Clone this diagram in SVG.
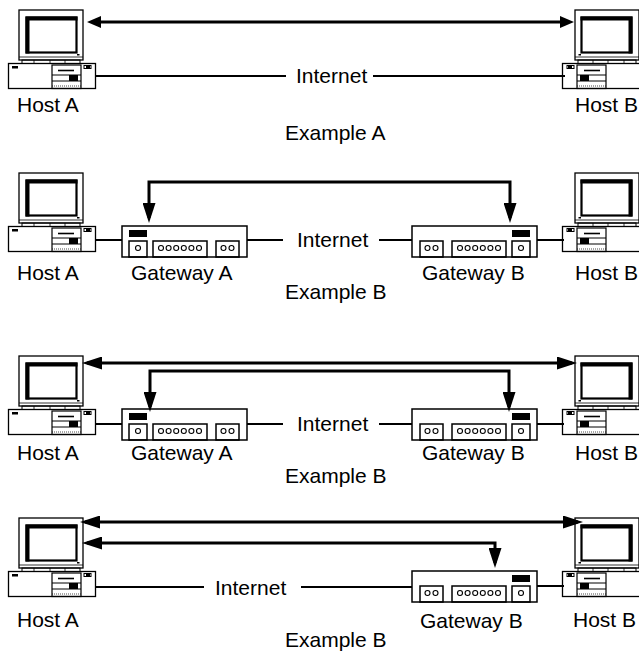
<svg xmlns="http://www.w3.org/2000/svg" xmlns:xlink="http://www.w3.org/1999/xlink" width="639" height="651" viewBox="0 0 639 651">
  <style>
    text { font-family: "Liberation Sans", Arial, sans-serif; font-size: 21px; fill: #000; }
    .link { fill: none; stroke: #000; stroke-width: 1.8; }
    .flow { fill: none; stroke: #000; stroke-width: 3; }
    .big { marker-start: url(#ah); marker-end: url(#ah); }
    .small { marker-start: url(#ahs); marker-end: url(#ahs); }
  </style>
  <defs>
    <marker id="ah" markerUnits="userSpaceOnUse" markerWidth="20" markerHeight="13" refX="15" refY="6.5" orient="auto-start-reverse">
      <path d="M0,0 L20,6.5 L0,13 Z" fill="#000"/>
    </marker>
    <marker id="ahs" markerUnits="userSpaceOnUse" markerWidth="14" markerHeight="12" refX="9" refY="6" orient="auto-start-reverse">
      <path d="M0,0 L14,6 L0,12 Z" fill="#000"/>
    </marker>
    <!-- desktop computer: monitor on top of a horizontal case -->
    <g id="pc" fill="none" stroke="#000">
      <rect x="11" y="0" width="64" height="50" stroke-width="1.3"/>
      <rect x="18.5" y="7.5" width="50" height="35" stroke-width="2.2"/>
      <path d="M17.5 8.5 H69.5 M19.5 7 V43.5" stroke-width="4"/>
      <path d="M11 47 H75" stroke-width="0.8"/>
      <rect x="69" y="44" width="2.5" height="1.5" fill="#000" stroke="none"/>
      <rect x="14" y="50" width="58" height="3.5" stroke-width="1"/>
      <path d="M26 50 V53.5 M42 50 V53.5 M57 50 V53.5" stroke-width="0.8"/>
      <rect x="0.5" y="53.5" width="87" height="25" stroke-width="1.3"/>
      <rect x="4" y="56" width="6" height="2.5" fill="#000" stroke="none"/>
      <rect x="76" y="55.5" width="7" height="3" stroke-width="1"/>
      <rect x="78" y="56" width="4" height="2" fill="#000" stroke="none"/>
      <rect x="44" y="55" width="29" height="23.5" stroke-width="1.2"/>
      <path d="M50 60.5 H66" stroke-width="1.6"/>
      <path d="M44 65 H73 M44 71 H73" stroke-width="1"/>
      <rect x="61" y="65" width="9" height="6" fill="#000" stroke="none"/>
      <path d="M44 76 H73" stroke-width="0.7" stroke-dasharray="1 1"/>
    </g>
    <!-- gateway box with status panel and port blocks -->
    <g id="gw" fill="none" stroke="#000">
      <rect x="0" y="0" width="125" height="31" stroke-width="1.5"/>
      <rect x="7" y="4" width="18" height="7" fill="#000" stroke="none"/>
      <rect x="7" y="15" width="18" height="16" stroke-width="1.5"/>
      <circle cx="16" cy="22" r="2.5" stroke-width="1.1"/>
      <rect x="31" y="15" width="54" height="16" stroke-width="1.5"/>
      <g stroke-width="1.1">
        <circle cx="39" cy="22" r="2.5"/>
        <circle cx="46.6" cy="22" r="2.5"/>
        <circle cx="54.2" cy="22" r="2.5"/>
        <circle cx="61.8" cy="22" r="2.5"/>
        <circle cx="69.4" cy="22" r="2.5"/>
        <circle cx="77" cy="22" r="2.5"/>
        <circle cx="101.5" cy="22" r="2.5"/>
        <circle cx="109.5" cy="22" r="2.5"/>
      </g>
      <rect x="94" y="15" width="23" height="16" stroke-width="1.5"/>
    </g>
  </defs>
  <rect width="639" height="651" fill="#fff"/>

  <!-- Example A -->
  <g id="a-hostA"><use xlink:href="#pc" transform="translate(8 10)"/><text x="17" y="112">Host A</text></g>
  <g id="a-hostB"><use xlink:href="#pc" transform="translate(650 10) scale(-1 1)"/><text x="575" y="112">Host B</text></g>

  <!-- Example B (gateway to gateway) -->
  <g id="b1-hostA"><use xlink:href="#pc" transform="translate(8 173)"/><text x="17" y="280">Host A</text></g>
  <g id="b1-gwA"><use xlink:href="#gw" transform="translate(122 226)"/><text x="131" y="280">Gateway A</text></g>
  <g id="b1-gwB"><use xlink:href="#gw" transform="translate(537 226) scale(-1 1)"/><text x="422" y="280">Gateway B</text></g>
  <g id="b1-hostB"><use xlink:href="#pc" transform="translate(650 173) scale(-1 1)"/><text x="575" y="280">Host B</text></g>

  <!-- Example B (host to host and gateway to gateway) -->
  <g id="b2-hostA"><use xlink:href="#pc" transform="translate(8 356)"/><text x="17" y="460">Host A</text></g>
  <g id="b2-gwA"><use xlink:href="#gw" transform="translate(122 409)"/><text x="131" y="460">Gateway A</text></g>
  <g id="b2-gwB"><use xlink:href="#gw" transform="translate(537 409) scale(-1 1)"/><text x="422" y="460">Gateway B</text></g>
  <g id="b2-hostB"><use xlink:href="#pc" transform="translate(650 356) scale(-1 1)"/><text x="575" y="460">Host B</text></g>

  <!-- Example B (host to gateway) -->
  <g id="b3-hostA"><use xlink:href="#pc" transform="translate(8 518)"/><text x="17" y="627">Host A</text></g>
  <g id="b3-gwB"><use xlink:href="#gw" transform="translate(537 571) scale(-1 1)"/><text x="420" y="628">Gateway B</text></g>
  <g id="b3-hostB"><use xlink:href="#pc" transform="translate(650 518) scale(-1 1)"/><text x="573" y="627">Host B</text></g>

  <g id="connectors">
    <!-- network links -->
    <path class="link" d="M95 76 H286 M373 76 H565"/>
    <path class="link" d="M95 240 H122 M247 240 H283 M379 240 H412 M537 240 H564"/>
    <path class="link" d="M95 424 H122 M247 424 H283 M379 424 H412 M537 424 H564"/>
    <path class="link" d="M95 587 H204 M301 587 H412 M537 586 H564"/>
    <!-- end-to-end paths -->
    <path class="flow small" d="M92 22 H569"/>
    <path class="flow big" d="M149 218 V182 H510 V218"/>
    <path class="flow big" d="M87 363 H572"/>
    <path class="flow big" d="M150 407 V371 H509 V407"/>
    <path class="flow big" d="M85 522 H578"/>
    <path class="flow big" d="M87 543 H495 V563"/>
  </g>

  <g id="labels">
    <text x="296" y="83">Internet</text>
    <text x="285" y="140">Example A</text>
    <text x="297" y="247">Internet</text>
    <text x="285" y="299">Example B</text>
    <text x="297" y="431">Internet</text>
    <text x="285" y="483">Example B</text>
    <text x="215" y="595">Internet</text>
    <text x="285" y="647">Example B</text>
  </g>
</svg>
